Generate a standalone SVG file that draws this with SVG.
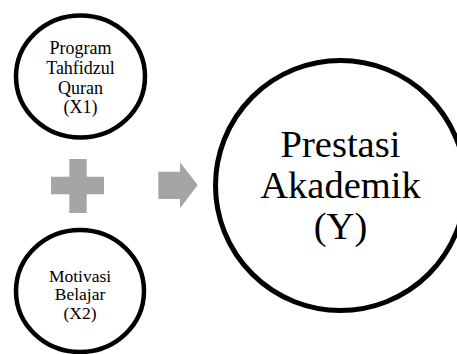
<svg xmlns="http://www.w3.org/2000/svg" width="457" height="354" viewBox="0 0 457 354">
<style>
.node{fill:#fff;stroke:#000;stroke-width:4.5}
.big{stroke-width:5}
.t{font-family:"Liberation Serif","Times New Roman",serif;fill:#000;text-anchor:middle}
.s{font-size:18px}
.s2{font-size:17.5px}
.l{font-size:38.5px}
.sym{fill:#A5A5A5}
</style>
<rect width="457" height="354" fill="#fff"/>
<g id="x1">
<ellipse class="node" cx="80.5" cy="76.5" rx="64.5" ry="61"/>
<text class="t s" x="80.5" y="54">Program</text>
<text class="t s" x="80.5" y="74">Tahfidzul</text>
<text class="t s" x="80.5" y="93.5">Quran</text>
<text class="t s" x="80.5" y="113">(X1)</text>
</g>
<g id="x2">
<ellipse class="node" cx="80" cy="291" rx="64" ry="61"/>
<text class="t s2" x="80" y="281.5">Motivasi</text>
<text class="t s2" x="80" y="300">Belajar</text>
<text class="t s2" x="80" y="318.5">(X2)</text>
</g>
<g id="y">
<circle class="node big" cx="340.5" cy="185.5" r="125"/>
<text class="t l" x="340.5" y="156.5">Prestasi</text>
<text class="t l" x="340.5" y="197.5">Akademik</text>
<text class="t l" x="340.5" y="238.5">(Y)</text>
</g>
<g id="connectors">
<path class="sym" d="M69.3 159H86.7V176.7H104V194.3H86.7V213H69.3V194.3H51V176.7H69.3Z"/>
<path class="sym" d="M158.3 171.7H180V162.3L197.7 185L180 208.3V199H158.3Z"/>
</g>
</svg>
